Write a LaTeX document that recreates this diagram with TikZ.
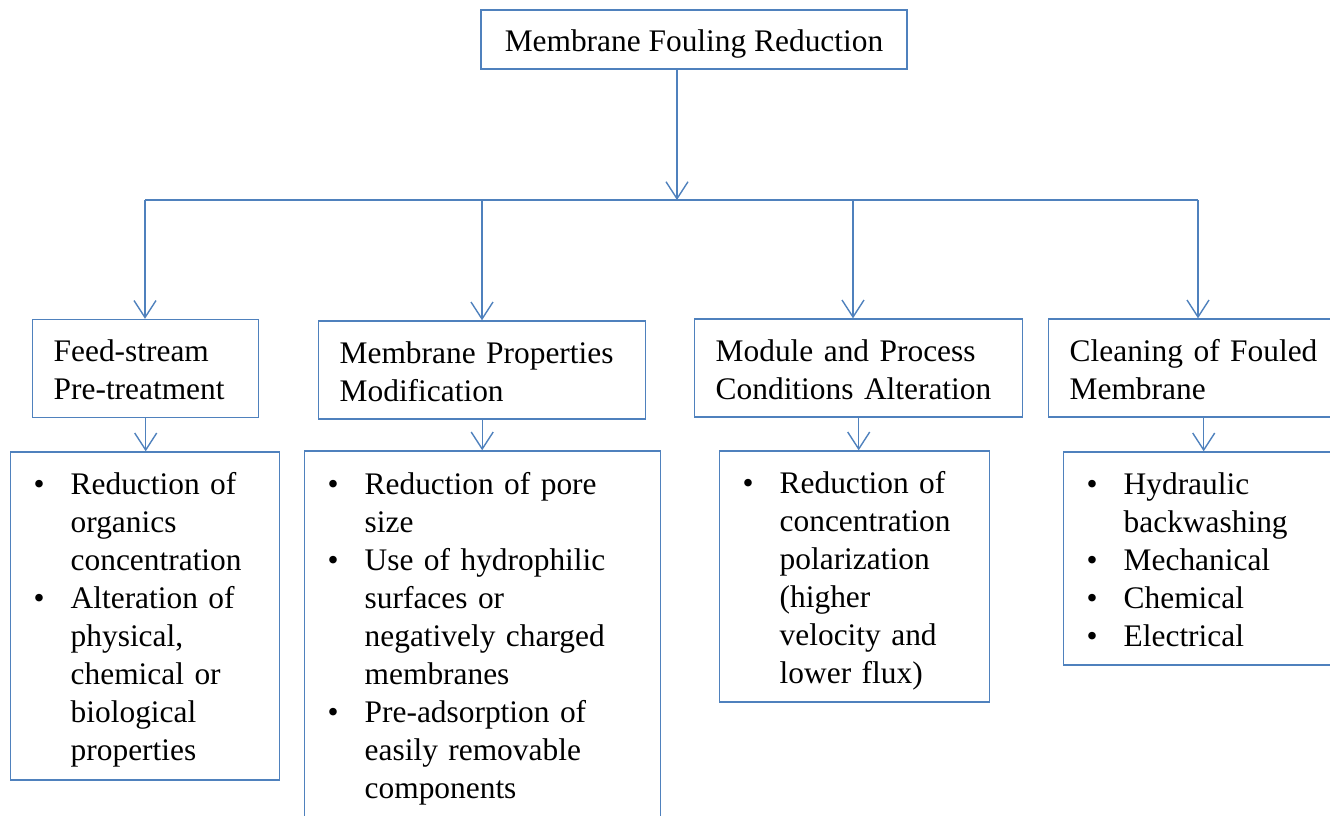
\documentclass[tikz,border=0pt]{standalone}
\usepackage{fontspec}
\setmainfont{Liberation Serif}
\usetikzlibrary{arrows.meta}
\definecolor{lineblue}{RGB}{79,129,189}
% bullet cell of a list row: the dot followed by the hanging indent
\newcommand{\itemdot}{\makebox[37pt][l]{\textbullet}}

\begin{document}
\begin{tikzpicture}[x=1pt,y=-1pt,
  box/.style={draw=lineblue, line width=1.4pt, rectangle,
    font=\fontsize{31.4}{38}\selectfont, inner ysep=0pt},
  head/.style={box, inner xsep=0pt, anchor=center,
    minimum width=426pt, minimum height=59pt,
    text height=31pt, text depth=7pt},
  cat/.style={box, anchor=west, align=left, inner xsep=21pt, minimum height=98pt},
  list/.style={box, anchor=west, align=left, inner xsep=23pt},
  link/.style={draw=lineblue, line width=1.4pt},
  arr/.style={link, -{Straight Barb[length=17pt,width=22pt]}}]

\clip (0,0) rectangle (1330,816);

% root
\node[head] (top) at (694,39.5) {Membrane Fouling Reduction};

% four strategies
\node[cat, text width=184pt] (f1) at (32,368.5) {%
  \begin{tabular}{@{}l@{}}\noalign{\vskip 9pt}
  Feed-stream\\Pre-treatment\end{tabular}};
\node[cat, text width=285pt] (f2) at (318,370) {%
  \begin{tabular}{@{}l@{}}\noalign{\vskip 9pt}
  Membrane Properties\\Modification\end{tabular}};
\node[cat, text width=286pt] (f3) at (694,368) {%
  \begin{tabular}{@{}l@{}}\noalign{\vskip 9pt}
  Module and Process\\Conditions Alteration\end{tabular}};
\node[cat, text width=268pt] (f4) at (1048,368) {%
  \begin{tabular}{@{}l@{}}\noalign{\vskip 9pt}
  Cleaning of Fouled\\Membrane\end{tabular}};

% measures for each strategy
\node[list, text width=223pt, minimum height=328pt] (g1) at (10,616) {%
  \begin{tabular}{@{}l@{}l@{}}\noalign{\vskip 8pt}
  \itemdot & Reduction of\\
           & organics\\
           & concentration\\
  \itemdot & Alteration of\\
           & physical,\\
           & chemical or\\
           & biological\\
           & properties
  \end{tabular}};
\node[list, text width=310pt, minimum height=368pt] (g2) at (304,635) {%
  \begin{tabular}{@{}l@{}l@{}}\noalign{\vskip 8pt}
  \itemdot & Reduction of pore\\
           & size\\
  \itemdot & Use of hydrophilic\\
           & surfaces or\\
           & negatively charged\\
           & membranes\\
  \itemdot & Pre-adsorption of\\
           & easily removable\\
           & components
  \end{tabular}};
\node[list, text width=224pt, minimum height=251pt] (g3) at (719,576.5) {%
  \begin{tabular}{@{}l@{}l@{}}\noalign{\vskip 8pt}
  \itemdot & Reduction of\\
           & concentration\\
           & polarization\\
           & (higher\\
           & velocity and\\
           & lower flux)
  \end{tabular}};
\node[list, text width=234pt, minimum height=213pt] (g4) at (1063,558.5) {%
  \begin{tabular}{@{}l@{}l@{}}\noalign{\vskip 8pt}
  \itemdot & Hydraulic\\
           & backwashing\\
  \itemdot & Mechanical\\
  \itemdot & Chemical\\
  \itemdot & Electrical
  \end{tabular}};

% distribution bus
\coordinate (hub)  at (677,200);
\coordinate (busL) at (145,200);
\coordinate (d2)   at (482,200);
\coordinate (d3)   at (853,200);
\coordinate (busR) at (1198,200);

\draw[arr] (top.south -| hub) -- (hub);
\draw[link] (busL) -- (busR);
\draw[arr] (busL) -- (busL |- f1.north);
\draw[arr] (d2) -- (d2 |- f2.north);
\draw[arr] (d3) -- (d3 |- f3.north);
\draw[arr] (busR) -- (busR |- f4.north);

% strategy to measures
\draw[arr] (f1.south) -- (f1.south |- g1.north);
\draw[arr] (f2.south) -- (f2.south |- g2.north);
\draw[arr] (f3.south) -- (f3.south |- g3.north);
\draw[arr] (f4.south) -- (f4.south |- g4.north);
\end{tikzpicture}
\end{document}
